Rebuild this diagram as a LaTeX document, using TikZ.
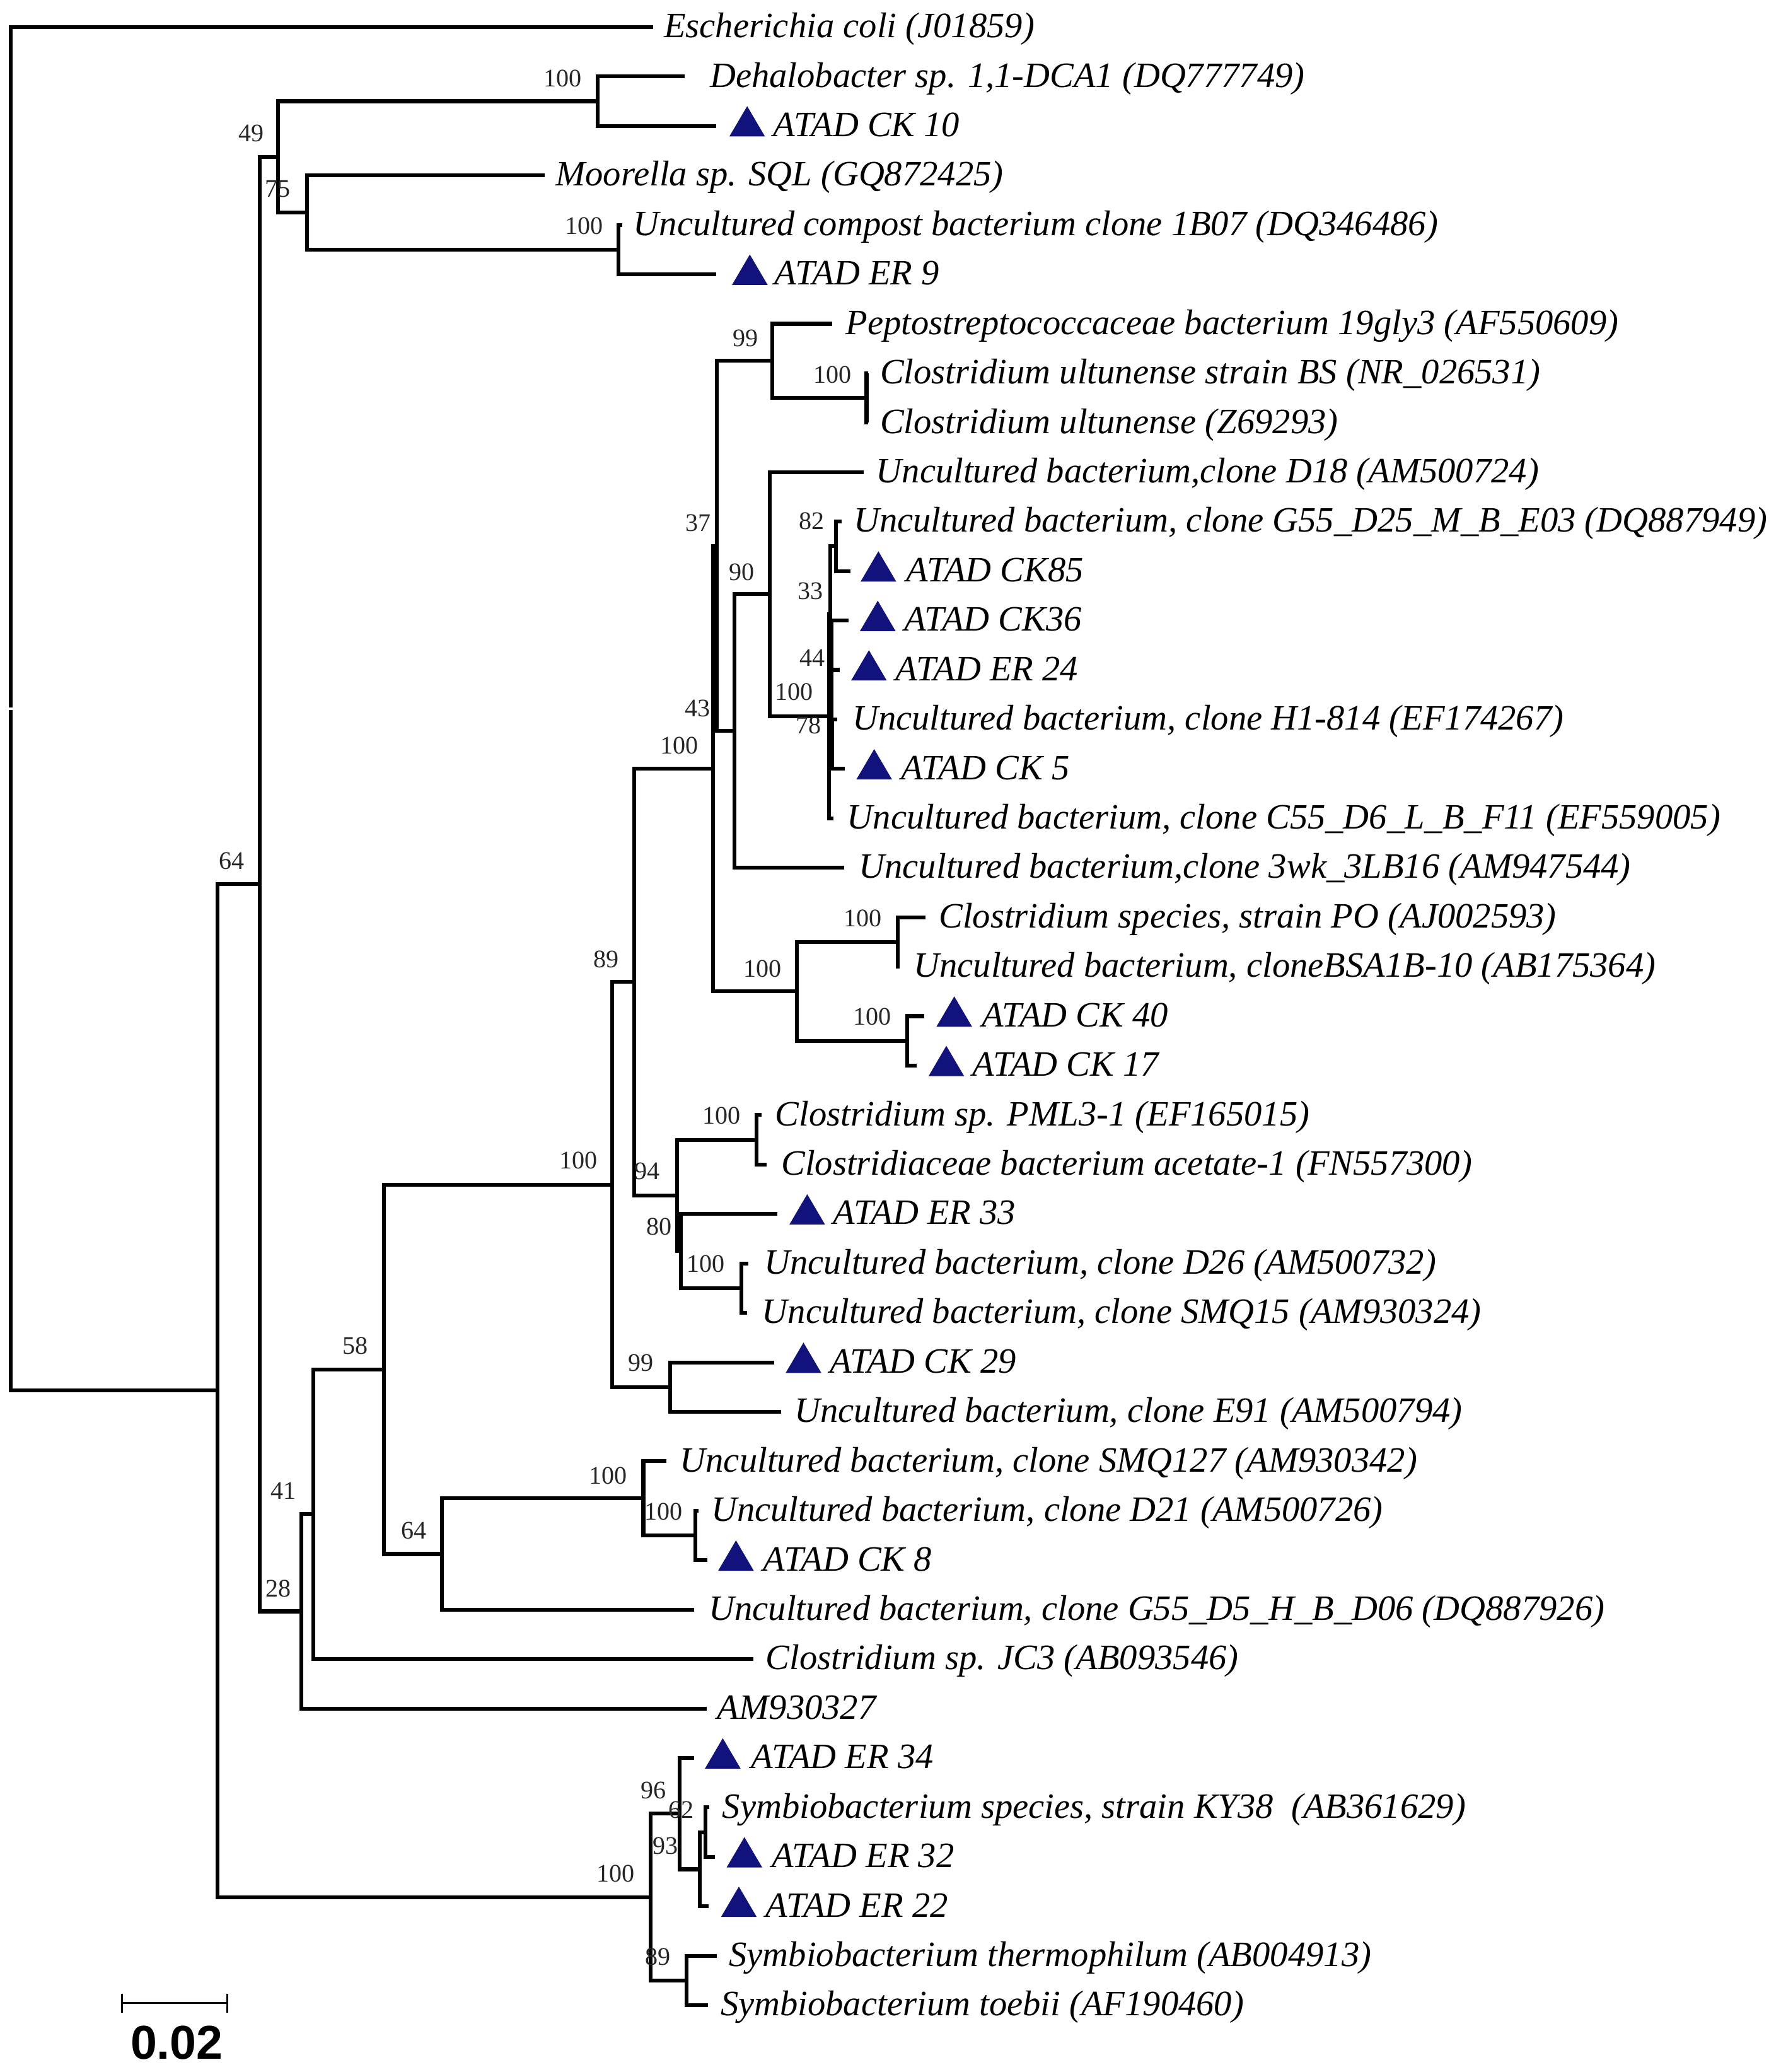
\documentclass[tikz,border=0pt]{standalone}
\usepackage{fontspec}
\setmainfont{Liberation Serif}
\newfontfamily\sbfont{Liberation Sans}
\usetikzlibrary{calc}
\definecolor{navy}{RGB}{18,18,125}
\newcommand\ry[1]{(20.5+(#1-1)*37.49)}
\newcommand\tri[2]{\fill[tri] (#1,{\ry{#2}+8}) -- ++(27,0) -- ++(-13.5,-23) -- cycle;}
\begin{document}
\begin{tikzpicture}[x=0.02cm,y=-0.02cm,
  branch/.style={line width=0.058cm, line join=miter, line cap=butt},
  leaf/.style={anchor=base west, inner sep=0pt, font=\fontsize{15.4}{18}\selectfont\itshape},
  boot/.style={anchor=base east, inner sep=0pt, text=black!85, font=\fontsize{10.9}{12}\selectfont},
  tri/.style={fill=navy}]
\useasboundingbox (0,0) rectangle (1350,1570.7);
% leaf tips
\coordinate (l1) at (495,{\ry{1}});
\coordinate (l2) at (519,{\ry{2}});
\coordinate (l3) at (543,{\ry{3}});
\coordinate (l4) at (413,{\ry{4}});
\coordinate (l5) at (472,{\ry{5}});
\coordinate (l6) at (543,{\ry{6}});
\coordinate (l7) at (631,{\ry{7}});
\coordinate (l8) at (658,{\ry{8}});
\coordinate (l9) at (658,{\ry{9}});
\coordinate (l10) at (655,{\ry{10}});
\coordinate (l11) at (638,{\ry{11}});
\coordinate (l12) at (644.6,{\ry{12}});
\coordinate (l13) at (643.6,{\ry{13}});
\coordinate (l14) at (636.6,{\ry{14}});
\coordinate (l15) at (635,{\ry{15}});
\coordinate (l16) at (640.5,{\ry{16}});
\coordinate (l17) at (632,{\ry{17}});
\coordinate (l18) at (640,{\ry{18}});
\coordinate (l19) at (701.8,{\ry{19}});
\coordinate (l20) at (682,{\ry{20}});
\coordinate (l21) at (700.6,{\ry{21}});
\coordinate (l22) at (695,{\ry{22}});
\coordinate (l23) at (577.5,{\ry{23}});
\coordinate (l24) at (581,{\ry{24}});
\coordinate (l25) at (589.3,{\ry{25}});
\coordinate (l26) at (567.4,{\ry{26}});
\coordinate (l27) at (566.5,{\ry{27}});
\coordinate (l28) at (587.1,{\ry{28}});
\coordinate (l29) at (592,{\ry{29}});
\coordinate (l30) at (505.2,{\ry{30}});
\coordinate (l31) at (529.5,{\ry{31}});
\coordinate (l32) at (536.3,{\ry{32}});
\coordinate (l33) at (526.2,{\ry{33}});
\coordinate (l34) at (571,{\ry{34}});
\coordinate (l35) at (535.9,{\ry{35}});
\coordinate (l36) at (526.2,{\ry{36}});
\coordinate (l37) at (537.5,{\ry{37}});
\coordinate (l38) at (542.1,{\ry{38}});
\coordinate (l39) at (537.2,{\ry{39}});
\coordinate (l40) at (543.6,{\ry{40}});
\coordinate (l41) at (536.8,{\ry{41}});
% internal nodes
\coordinate (nR) at (8,{\ry{14.786}});
\coordinate (nA) at (165,{\ry{28.571}});
\coordinate (nB) at (197,{\ry{18.33}});
\coordinate (n49) at (211,{\ry{3.625}});
\coordinate (nD) at (453,{\ry{2.5}});
\coordinate (n75) at (233,{\ry{4.75}});
\coordinate (nC5) at (469,{\ry{5.5}});
\coordinate (n28) at (228.3,{\ry{33.035}});
\coordinate (n41) at (237.4,{\ry{31.07}});
\coordinate (n58) at (291.3,{\ry{28.14}});
\coordinate (n64) at (334.9,{\ry{31.875}});
\coordinate (nSMQ) at (487.8,{\ry{30.75}});
\coordinate (nD21) at (527.1,{\ry{31.5}});
\coordinate (nBig) at (464,{\ry{24.405}});
\coordinate (n99c) at (508,{\ry{28.5}});
\coordinate (n89) at (481,{\ry{20.31}});
\coordinate (n94) at (513.4,{\ry{24.625}});
\coordinate (nPML) at (573.8,{\ry{23.5}});
\coordinate (n80) at (516.2,{\ry{25.75}});
\coordinate (nD26) at (561.9,{\ry{26.5}});
\coordinate (n100a) at (540.5,{\ry{15.995}});
\coordinate (nPO100) at (604,{\ry{20.5}});
\coordinate (nPO) at (680.8,{\ry{19.5}});
\coordinate (nCK40) at (688,{\ry{21.5}});
\coordinate (n37) at (543.5,{\ry{11.49}});
\coordinate (n99b) at (585.5,{\ry{7.75}});
\coordinate (nCu) at (657,{\ry{8.5}});
\coordinate (n43) at (557,{\ry{15.235}});
\coordinate (n90) at (583.5,{\ry{12.469}});
\coordinate (n100c) at (628.6,{\ry{14.9375}});
\coordinate (n33) at (629.4,{\ry{12.875}});
\coordinate (n82) at (634,{\ry{11.5}});
\coordinate (n44) at (630.5,{\ry{14.25}});
\coordinate (n78) at (631,{\ry{15.5}});
\coordinate (nS) at (493.3,{\ry{38.8125}});
\coordinate (n96) at (515.3,{\ry{37.125}});
\coordinate (n93) at (530.4,{\ry{38.25}});
\coordinate (n62) at (534.8,{\ry{37.5}});
\coordinate (n89s) at (520.7,{\ry{40.5}});
% branches
\draw[branch] (l1) -| ($(nR)+(0,-1)$);
\draw[branch] ($(nR)+(0,1)$) |- (nA);
\draw[branch] (nB) -| (nA |- nS) -- (nS);
\draw[branch] (n49) -| (nB |- n28) -- (n28);
\draw[branch] (nD) -| (n49 |- n75) -- (n75);
\draw[branch] (l2) -| (nD |- l3) -- (l3);
\draw[branch] (l4) -| (n75 |- nC5) -- (nC5);
\draw[branch] (l5) -| (nC5 |- l6) -- (l6);
\draw[branch] (n41) -| (n28 |- l35) -- (l35);
\draw[branch] (n58) -| (n41 |- l34) -- (l34);
\draw[branch] (nBig) -| (n58 |- n64) -- (n64);
\draw[branch] (nSMQ) -| (n64 |- l33) -- (l33);
\draw[branch] (l30) -| (nSMQ |- nD21) -- (nD21);
\draw[branch] (l31) -| (nD21 |- l32) -- (l32);
\draw[branch] (n89) -| (nBig |- n99c) -- (n99c);
\draw[branch] (l28) -| (n99c |- l29) -- (l29);
\draw[branch] (n100a) -| (n89 |- n94) -- (n94);
\draw[branch] (nPML) -| (n94 |- n80) -- (n80);
\draw[branch] (l23) -| (nPML |- l24) -- (l24);
\draw[branch] (l25) -| (n80 |- nD26) -- (nD26);
\draw[branch] (l26) -| (nD26 |- l27) -- (l27);
\draw[branch] (n37) -| (n100a |- nPO100) -- (nPO100);
\draw[branch] (nPO) -| (nPO100 |- nCK40) -- (nCK40);
\draw[branch] (l19) -| (nPO |- l20) -- (l20);
\draw[branch] (l21) -| (nCK40 |- l22) -- (l22);
\draw[branch] (n99b) -| (n37 |- n43) -- (n43);
\draw[branch] (l7) -| (n99b |- nCu) -- (nCu);
\draw[branch] (l8) -| (nCu |- l9) -- (l9);
\draw[branch] (n90) -| (n43 |- l18) -- (l18);
\draw[branch] (l10) -| (n90 |- n100c) -- (n100c);
\draw[branch] (n33) -| (n100c |- l17) -- (l17);
\draw[branch] (n82) -| (n33 |- n44) -- (n44);
\draw[branch] (l11) -| (n82 |- l12) -- (l12);
\draw[branch] (l13) -| (n44 |- n78) -- (n78);
\draw[branch] (n44 |- l14) -- (l14);
\draw[branch] (l15) -| (n78 |- l16) -- (l16);
\draw[branch] (n96) -| (nS |- n89s) -- (n89s);
\draw[branch] (l36) -| (n96 |- n93) -- (n93);
\draw[branch] (n62) -| (n93 |- l39) -- (l39);
\draw[branch] (l37) -| (n62 |- l38) -- (l38);
\draw[branch] (l40) -| (n89s |- l41) -- (l41);
% bootstrap values
\node[boot] (b1) at (441.4,65.5) {100};
\node[boot] (b2) at (200.3,107.5) {49};
\node[boot] (b3) at (220.5,149.6) {75};
\node[boot] (b4) at (457.4,177.7) {100};
\node[boot] (b5) at (185.5,658.7) {64};
\node[boot] (b6) at (575,262.5) {99};
\node[boot] (b7) at (646,290.2) {100};
\node[boot] (b8) at (539.1,402.9) {37};
\node[boot] (b9) at (572.5,440) {90};
\node[boot] (b10) at (625.4,401.5) {82};
\node[boot] (b11) at (624.6,454.1) {33};
\node[boot] (b12) at (625.9,505.1) {44};
\node[boot] (b13) at (616.7,530.6) {100};
\node[boot] (b14) at (623,556.1) {78};
\node[boot] (b15) at (539,543.1) {43};
\node[boot] (b16) at (529.9,571.4) {100};
\node[boot] (b17) at (469.5,733.3) {89};
\node[boot] (b18) at (593,740.6) {100};
\node[boot] (b19) at (668.9,702.2) {100};
\node[boot] (b20) at (676.2,777.2) {100};
\node[boot] (b21) at (561.9,852.1) {100};
\node[boot] (b22) at (500.6,894.2) {94};
\node[boot] (b23) at (453.1,886) {100};
\node[boot] (b24) at (509.8,936.2) {80};
\node[boot] (b25) at (550,964.5) {100};
\node[boot] (b26) at (496,1039.5) {99};
\node[boot] (b27) at (279.5,1026.7) {58};
\node[boot] (b28) at (224.6,1136.4) {41};
\node[boot] (b29) at (220.9,1210.5) {28};
\node[boot] (b30) at (323.6,1166.6) {64};
\node[boot] (b31) at (475.9,1124.9) {100};
\node[boot] (b32) at (518,1152.3) {100};
\node[boot] (b33) at (481.4,1426.7) {100};
\node[boot] (b34) at (505.2,1363.6) {96};
\node[boot] (b35) at (526.2,1378.2) {62};
\node[boot] (b36) at (514.3,1405.6) {93};
\node[boot] (b37) at (508.9,1489.8) {89};
% triangles
\tri{553}{3} \tri{555}{6} \tri{652.5}{12} \tri{652}{13} \tri{645.3}{14}
\tri{649.3}{16} \tri{710}{21} \tri{704}{22} \tri{598.5}{25} \tri{595.7}{28}
\tri{544.5}{32} \tri{534.5}{36} \tri{550.9}{38} \tri{546.7}{39}
% leaf labels
\node[leaf] (t1) at (503,{\ry{1}+8}) {Escherichia coli (J01859)};
\node[leaf] (t2) at (538,{\ry{2}+8}) {Dehalobacter sp. 1,1-DCA1 (DQ777749)};
\node[leaf] (t3) at (586,{\ry{3}+8}) {ATAD CK 10};
\node[leaf] (t4) at (421,{\ry{4}+8}) {Moorella sp. SQL (GQ872425)};
\node[leaf] (t5) at (480,{\ry{5}+8}) {Uncultured compost bacterium clone 1B07 (DQ346486)};
\node[leaf] (t6) at (587,{\ry{6}+8}) {ATAD ER 9};
\node[leaf] (t7) at (641,{\ry{7}+8}) {Peptostreptococcaceae bacterium 19gly3 (AF550609)};
\node[leaf] (t8) at (667,{\ry{8}+8}) {Clostridium ultunense strain BS (NR\_026531)};
\node[leaf] (t9) at (667,{\ry{9}+8}) {Clostridium ultunense (Z69293)};
\node[leaf] (t10) at (664,{\ry{10}+8}) {Uncultured bacterium,clone D18 (AM500724)};
\node[leaf] (t11) at (647,{\ry{11}+8}) {Uncultured bacterium, clone G55\_D25\_M\_B\_E03 (DQ887949)};
\node[leaf] (t12) at (686.8,{\ry{12}+8}) {ATAD CK85};
\node[leaf] (t13) at (685.2,{\ry{13}+8}) {ATAD CK36};
\node[leaf] (t14) at (678.8,{\ry{14}+8}) {ATAD ER 24};
\node[leaf] (t15) at (646,{\ry{15}+8}) {Uncultured bacterium, clone H1-814 (EF174267)};
\node[leaf] (t16) at (682.8,{\ry{16}+8}) {ATAD CK 5};
\node[leaf] (t17) at (642,{\ry{17}+8}) {Uncultured bacterium, clone C55\_D6\_L\_B\_F11 (EF559005)};
\node[leaf] (t18) at (651,{\ry{18}+8}) {Uncultured bacterium,clone 3wk\_3LB16 (AM947544)};
\node[leaf] (t19) at (711.5,{\ry{19}+8}) {Clostridium species, strain PO (AJ002593)};
\node[leaf] (t20) at (692.5,{\ry{20}+8}) {Uncultured bacterium, cloneBSA1B-10 (AB175364)};
\node[leaf] (t21) at (744,{\ry{21}+8}) {ATAD CK 40};
\node[leaf] (t22) at (737,{\ry{22}+8}) {ATAD CK 17};
\node[leaf] (t23) at (587.5,{\ry{23}+8}) {Clostridium sp. PML3-1 (EF165015)};
\node[leaf] (t24) at (592,{\ry{24}+8}) {Clostridiaceae bacterium acetate-1 (FN557300)};
\node[leaf] (t25) at (631.4,{\ry{25}+8}) {ATAD ER 33};
\node[leaf] (t26) at (579.3,{\ry{26}+8}) {Uncultured bacterium, clone D26 (AM500732)};
\node[leaf] (t27) at (577.5,{\ry{27}+8}) {Uncultured bacterium, clone SMQ15 (AM930324)};
\node[leaf] (t28) at (628.7,{\ry{28}+8}) {ATAD CK 29};
\node[leaf] (t29) at (602.2,{\ry{29}+8}) {Uncultured bacterium, clone E91 (AM500794)};
\node[leaf] (t30) at (515.3,{\ry{30}+8}) {Uncultured bacterium, clone SMQ127 (AM930342)};
\node[leaf] (t31) at (539,{\ry{31}+8}) {Uncultured bacterium, clone D21 (AM500726)};
\node[leaf] (t32) at (578.4,{\ry{32}+8}) {ATAD CK 8};
\node[leaf] (t33) at (537.2,{\ry{33}+8}) {Uncultured bacterium, clone G55\_D5\_H\_B\_D06 (DQ887926)};
\node[leaf] (t34) at (580.2,{\ry{34}+8}) {Clostridium sp. JC3 (AB093546)};
\node[leaf] (t35) at (543.6,{\ry{35}+8}) {AM930327};
\node[leaf] (t36) at (569.2,{\ry{36}+8}) {ATAD ER 34};
\node[leaf] (t37) at (547.3,{\ry{37}+8}) {Symbiobacterium species, strain KY38\ \ (AB361629)};
\node[leaf] (t38) at (584.8,{\ry{38}+8}) {ATAD ER 32};
\node[leaf] (t39) at (580.2,{\ry{39}+8}) {ATAD ER 22};
\node[leaf] (t40) at (552.4,{\ry{40}+8}) {Symbiobacterium thermophilum (AB004913)};
\node[leaf] (t41) at (546,{\ry{41}+8}) {Symbiobacterium toebii (AF190460)};
% scale bar
\coordinate (sb1) at (92.4,1518.5);
\coordinate (sb2) at (172.4,1518.5);
\draw[line width=0.026cm] (sb1) -- (sb2);
\draw[line width=0.032cm] ($(sb1)+(0,-7.2)$) -- ($(sb1)+(0,7.1)$);
\draw[line width=0.032cm] ($(sb2)+(0,-7.2)$) -- ($(sb2)+(0,7.1)$);
\node[anchor=base, inner sep=0pt, font=\sbfont\bfseries\fontsize{20.5}{24}\selectfont] (sbl) at (134,1561) {0.02};
\end{tikzpicture}
\end{document}
